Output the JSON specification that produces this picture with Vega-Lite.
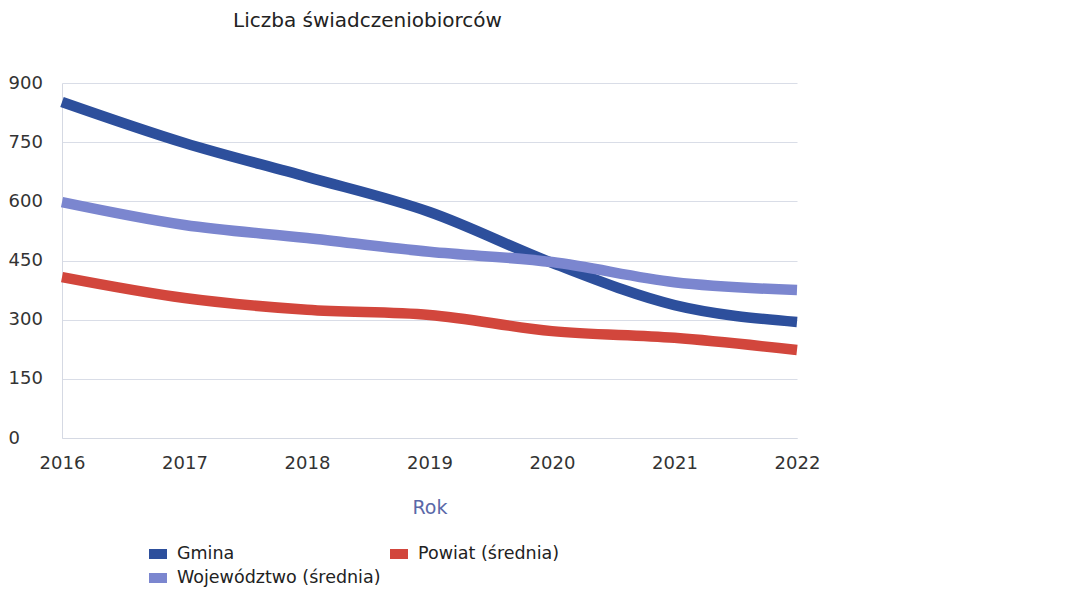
{
  "$schema": "https://vega.github.io/schema/vega-lite/v6.json",
  "width": 735,
  "height": 355,
  "autosize": {"type": "none"},
  "padding": {"left": 62, "top": 83, "right": 269, "bottom": 154},
  "background": "white",
  "title": {
    "text": "Liczba świadczeniobiorców",
    "anchor": "start",
    "frame": "group",
    "dx": 171,
    "offset": 43,
    "font": "DejaVu Sans",
    "fontSize": 20,
    "fontWeight": "normal",
    "color": "#222222"
  },
  "data": {
    "values": [
      {"rok": 2016, "seria": "Gmina", "wartosc": 852},
      {"rok": 2017, "seria": "Gmina", "wartosc": 748},
      {"rok": 2018, "seria": "Gmina", "wartosc": 662},
      {"rok": 2019, "seria": "Gmina", "wartosc": 573},
      {"rok": 2020, "seria": "Gmina", "wartosc": 444},
      {"rok": 2021, "seria": "Gmina", "wartosc": 337},
      {"rok": 2022, "seria": "Gmina", "wartosc": 294},
      {"rok": 2016, "seria": "Województwo (średnia)", "wartosc": 598},
      {"rok": 2017, "seria": "Województwo (średnia)", "wartosc": 540},
      {"rok": 2018, "seria": "Województwo (średnia)", "wartosc": 507},
      {"rok": 2019, "seria": "Województwo (średnia)", "wartosc": 472},
      {"rok": 2020, "seria": "Województwo (średnia)", "wartosc": 446},
      {"rok": 2021, "seria": "Województwo (średnia)", "wartosc": 395},
      {"rok": 2022, "seria": "Województwo (średnia)", "wartosc": 375},
      {"rok": 2016, "seria": "Powiat (średnia)", "wartosc": 408},
      {"rok": 2017, "seria": "Powiat (średnia)", "wartosc": 355},
      {"rok": 2018, "seria": "Powiat (średnia)", "wartosc": 325},
      {"rok": 2019, "seria": "Powiat (średnia)", "wartosc": 312},
      {"rok": 2020, "seria": "Powiat (średnia)", "wartosc": 271},
      {"rok": 2021, "seria": "Powiat (średnia)", "wartosc": 254},
      {"rok": 2022, "seria": "Powiat (średnia)", "wartosc": 223}
    ]
  },
  "mark": {"type": "line", "strokeWidth": 10.5, "interpolate": "monotone", "strokeCap": "butt"},
  "encoding": {
    "x": {
      "field": "rok",
      "type": "ordinal",
      "scale": {"type": "point", "padding": 0},
      "axis": {
        "title": "Rok",
        "titleFont": "DejaVu Sans",
        "titleFontSize": 19,
        "titleFontWeight": "normal",
        "titleColor": "#5a68a8",
        "titlePadding": 26,
        "labelAngle": 0,
        "labelFont": "DejaVu Sans",
        "labelFontSize": 18,
        "labelColor": "#333333",
        "labelPadding": 16,
        "ticks": false,
        "domain": true,
        "domainColor": "#d5d9e3",
        "grid": false
      }
    },
    "y": {
      "field": "wartosc",
      "type": "quantitative",
      "scale": {"domain": [0, 900]},
      "axis": {
        "title": null,
        "values": [0, 150, 300, 450, 600, 750, 900],
        "labelFont": "DejaVu Sans",
        "labelFontSize": 18,
        "labelColor": "#333333",
        "labelAlign": "left",
        "labelPadding": 54,
        "ticks": false,
        "tickSize": 0,
        "domain": true,
        "domainColor": "#d5d9e3",
        "grid": true,
        "gridColor": "#d9dde7",
        "gridWidth": 1
      }
    },
    "color": {
      "field": "seria",
      "type": "nominal",
      "scale": {
        "domain": ["Gmina", "Województwo (średnia)", "Powiat (średnia)"],
        "range": ["#2d4f9c", "#7b86cf", "#d2463c"]
      },
      "legend": {
        "title": null,
        "orient": "none",
        "legendX": 82,
        "legendY": 461,
        "columns": 2,
        "columnPadding": 4,
        "rowPadding": 4,
        "clipHeight": 20,
        "symbolType": "stroke",
        "symbolSize": 324,
        "symbolStrokeWidth": 10,
        "labelFont": "DejaVu Sans",
        "labelFontSize": 17.5,
        "labelColor": "#222222",
        "labelOffset": 5,
        "labelLimit": 400
      }
    }
  },
  "config": {"view": {"stroke": null}}
}
